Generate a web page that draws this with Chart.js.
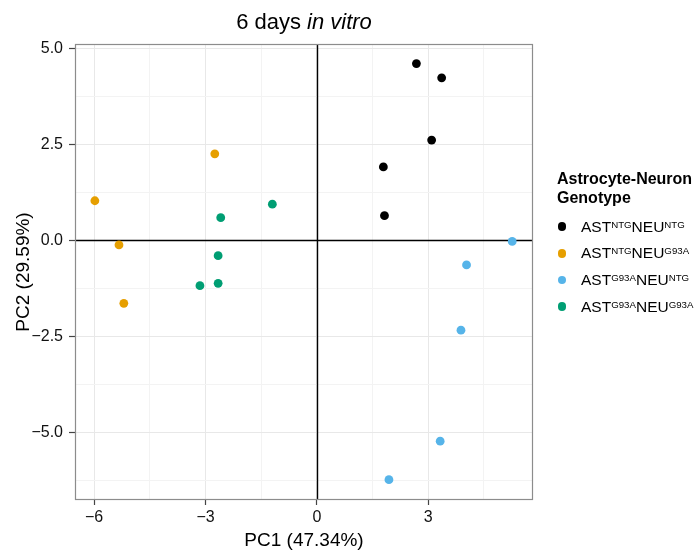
<!DOCTYPE html>
<html>
<head>
<meta charset="utf-8">
<script src="https://cdn.jsdelivr.net/npm/chart.js@4"></script>
<style>
  body { margin: 0; background: #fff; }
  #wrap { position: relative; width: 694px; height: 550px; font-family: "Liberation Sans", Arial, Helvetica, sans-serif; color: #000; }
  #c { position: absolute; left: 0; top: 0; }
  #title { position: absolute; left: 0; width: 608px; top: 8px; text-align: center; font-size: 22px; line-height: 28px; white-space: nowrap; }
  #legTitle { position: absolute; left: 557px; top: 170px; font-size: 16px; font-weight: bold; line-height: 18.5px; white-space: nowrap; }
  .item { position: absolute; left: 581px; font-size: 15.5px; line-height: 20px; white-space: nowrap; }
  .item .s { font-size: 9.7px; position: relative; top: -4px; vertical-align: baseline; }
  .dot { position: absolute; width: 8.8px; height: 8.8px; border-radius: 50%; }
</style>
</head>
<body>
<div id="wrap">
  <canvas id="c" width="694" height="550"></canvas>
  <div id="title">6 days <i>in vitro</i></div>
  <div id="legTitle">Astrocyte-Neuron<br>Genotype</div>
  <div id="legend"></div>
</div>
<script>
// ---- Data ----
const chartTitle = '6 days';
const chartTitleItalic = 'in vitro';
const xAxisTitle = 'PC1 (47.34%)';
const yAxisTitle = 'PC2 (29.59%)';
const legendTitle = ['Astrocyte-Neuron', 'Genotype'];

// series genotype labels (AST superscript, NEU superscript)
const astGenotype = ['NTG', 'NTG', 'G93A', 'G93A'];
const neuGenotype = ['NTG', 'G93A', 'NTG', 'G93A'];

// AST NTG / NEU NTG
const ntgNtgPC1 = [2.68, 3.36, 3.09, 1.79, 1.82];
const ntgNtgPC2 = [4.60, 4.23, 2.61, 1.91, 0.64];
// AST NTG / NEU G93A
const ntgG93aPC1 = [-2.75, -5.98, -5.33, -5.20];
const ntgG93aPC2 = [2.25, 1.03, -0.12, -1.64];
// AST G93A / NEU NTG
const g93aNtgPC1 = [5.26, 4.03, 3.88, 3.32, 1.94];
const g93aNtgPC2 = [-0.03, -0.64, -2.34, -5.23, -6.23];
// AST G93A / NEU G93A
const g93aG93aPC1 = [-1.20, -2.59, -2.66, -2.66, -3.15];
const g93aG93aPC2 = [0.94, 0.59, -0.40, -1.12, -1.18];

// ticks
const xTickValues = [-6, -3, 0, 3];
const xTickLabels = ['\u22126', '\u22123', '0', '3'];
const xMinorValues = [-4.5, -1.5, 1.5, 4.5];
const yTickValues = [5, 2.5, 0, -2.5, -5];
const yTickLabels = ['5.0', '2.5', '0.0', '\u22122.5', '\u22125.0'];
const yMinorValues = [3.75, 1.25, -1.25, -3.75, -6.25];

// ---- Styles ----
const seriesColors = ['#000000', '#E69F00', '#56B4E9', '#009E73'];
const FONT = '"Liberation Sans", Arial, Helvetica, sans-serif';

const seriesX = [ntgNtgPC1, ntgG93aPC1, g93aNtgPC1, g93aG93aPC1];
const seriesY = [ntgNtgPC2, ntgG93aPC2, g93aNtgPC2, g93aG93aPC2];

const datasets = seriesX.map((xs, i) => ({
  label: 'AST' + astGenotype[i] + 'NEU' + neuGenotype[i],
  data: xs.map((x, j) => ({ x: x, y: seriesY[i][j] })),
  backgroundColor: seriesColors[i],
  borderWidth: 0,
  pointRadius: 4.4,
  pointHoverRadius: 4.4
}));

function isIn(arr, v) { return arr.some(a => Math.abs(a - v) < 1e-9); }
function labelFor(vals, labels, v) {
  for (let i = 0; i < vals.length; i++) if (Math.abs(vals[i] - v) < 1e-9) return labels[i];
  return '';
}
function gridColor(minors) {
  return ctx => {
    const v = ctx.tick ? ctx.tick.value : null;
    if (v === null) return 'rgba(0,0,0,0)';
    return isIn(minors, v) ? '#f3f3f3' : '#e8e8e8';
  };
}
function tickColor(minors) {
  return ctx => {
    const v = ctx.tick ? ctx.tick.value : null;
    if (v === null || isIn(minors, v)) return 'rgba(0,0,0,0)';
    return '#444444';
  };
}

// zero reference lines, drawn after the grid through the scales
const zeroLines = {
  id: 'zeroLines',
  beforeDatasetsDraw(chart) {
    const a = chart.chartArea, ctx = chart.ctx;
    const x0 = Math.round(chart.scales.x.getPixelForValue(0)) + 0.5;
    const y0 = Math.round(chart.scales.y.getPixelForValue(0)) + 0.5;
    ctx.save();
    ctx.strokeStyle = '#000';
    ctx.lineWidth = 1.4;
    ctx.beginPath();
    ctx.moveTo(x0, a.top); ctx.lineTo(x0, a.bottom);
    ctx.moveTo(a.left, y0); ctx.lineTo(a.right, y0);
    ctx.stroke();
    ctx.restore();
  }
};
const panelBorder = {
  id: 'panelBorder',
  afterDatasetsDraw(chart) {
    const a = chart.chartArea, ctx = chart.ctx;
    ctx.save();
    ctx.strokeStyle = '#8c8c8c';
    ctx.lineWidth = 1.2;
    ctx.strokeRect(a.left + 0.5, a.top + 0.5, a.right - a.left - 1, a.bottom - a.top - 1);
    ctx.restore();
  }
};

new Chart(document.getElementById('c'), {
  type: 'scatter',
  data: { datasets: datasets },
  options: {
    responsive: false,
    animation: false,
    events: [],
    layout: { padding: { top: 44, right: 161, left: 0, bottom: 0 } },
    plugins: { legend: { display: false }, title: { display: false }, tooltip: { enabled: false } },
    scales: {
      x: {
        type: 'linear',
        min: -6.515,
        max: 5.82,
        afterBuildTicks: s => { s.ticks = xTickValues.concat(xMinorValues).sort((a, b) => a - b).map(v => ({ value: v })); },
        afterFit: s => { s.height = 50; },
        ticks: {
          autoSkip: false, maxRotation: 0, padding: 3,
          font: { family: FONT, size: 16 }, color: '#111',
          callback: v => labelFor(xTickValues, xTickLabels, v)
        },
        grid: { color: gridColor(xMinorValues), lineWidth: 1, tickColor: tickColor(xMinorValues), tickLength: 5, tickWidth: 1.2 },
        border: { display: false },
        title: { display: true, text: xAxisTitle, color: '#000', font: { family: FONT, size: 19, lineHeight: 1 }, padding: 0 }
      },
      y: {
        type: 'linear',
        min: -6.76,
        max: 5.11,
        afterBuildTicks: s => { s.ticks = yTickValues.concat(yMinorValues).sort((a, b) => a - b).map(v => ({ value: v })); },
        afterFit: s => { s.width = 75; },
        ticks: {
          autoSkip: false, padding: 6,
          font: { family: FONT, size: 16 }, color: '#111',
          callback: v => labelFor(yTickValues, yTickLabels, v)
        },
        grid: { color: gridColor(yMinorValues), lineWidth: 1, tickColor: tickColor(yMinorValues), tickLength: 6, tickWidth: 1.2 },
        border: { display: false },
        title: { display: true, text: yAxisTitle, color: '#000', font: { family: FONT, size: 19, lineHeight: 1 }, padding: { top: 14, bottom: 0 } }
      }
    }
  },
  plugins: [zeroLines, panelBorder]
});

// title & legend text from the arrays
document.getElementById('title').innerHTML = chartTitle + ' <i>' + chartTitleItalic + '</i>';
document.getElementById('legTitle').innerHTML = legendTitle.join('<br>');
const leg = document.getElementById('legend');
const itemY0 = 226.7, itemStep = 26.67;
astGenotype.forEach((a, i) => {
  const cy = itemY0 + i * itemStep;
  const dot = document.createElement('div');
  dot.className = 'dot';
  dot.style.background = seriesColors[i];
  dot.style.left = (562 - 4.4) + 'px';
  dot.style.top = (cy - 4.4) + 'px';
  leg.appendChild(dot);
  const it = document.createElement('div');
  it.className = 'item';
  it.style.top = (cy - 10) + 'px';
  it.innerHTML = 'AST<span class="s">' + a + '</span>NEU<span class="s">' + neuGenotype[i] + '</span>';
  leg.appendChild(it);
});
</script>
</body>
</html>
